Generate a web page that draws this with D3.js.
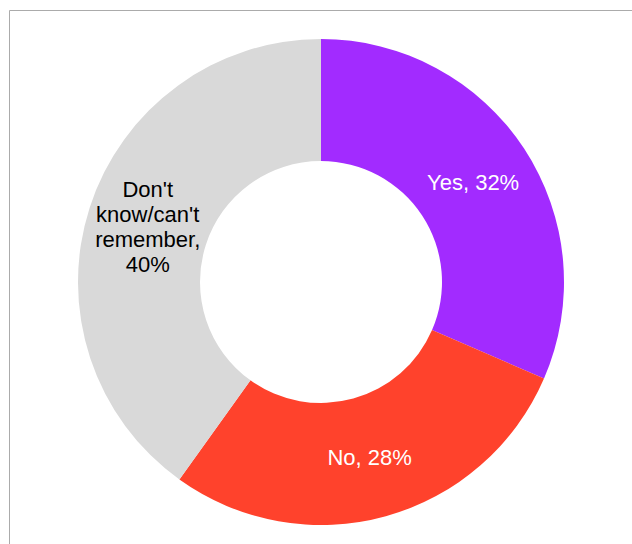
<!DOCTYPE html>
<html><head><meta charset="utf-8">
<script src="https://cdn.jsdelivr.net/npm/d3@7"></script>
<style>html,body{margin:0;padding:0;background:#fff;}svg{display:block;}</style>
</head><body>
<script>
const categories = ["Yes", "No", "Don't know/can't remember"];
const values = [31.5, 28.4, 40.1];
const labelLines = [["Yes, 32%"], ["No, 28%"], ["Don't", "know/can't", "remember,", "40%"]];
const colors = ["#A22BFF", "#FF422C", "#D9D9D9"];
const textColors = ["#ffffff", "#ffffff", "#000000"];

const W = 632, H = 544;
const svg = d3.select("body").append("svg").attr("width", W).attr("height", H);

// frame
svg.append("path").attr("d", `M9.5,${H} V10.5 H${W}`).attr("fill", "none").attr("stroke", "#ababab").attr("stroke-width", 1);

const cx = 321, cy = 282, rO = 243, rI = 121;
const g = svg.append("g").attr("transform", `translate(${cx},${cy})`);
const data = categories.map((c, i) => ({c, v: values[i], i}));
const pie = d3.pie().value(d => d.v).sort(null);
const arc = d3.arc().innerRadius(rI).outerRadius(rO);
const arcs = pie(data);
g.selectAll("path.slice").data(arcs).join("path").attr("class", "slice")
  .attr("d", arc).attr("fill", d => colors[d.data.i]);

const fs = 22, lh = 25;
const labelArc = d3.arc().innerRadius((rI + rO) / 2).outerRadius((rI + rO) / 2);
const shifts = [[0, 0], [0, 0], [0, 0]];
arcs.forEach(a => {
  const i = a.data.i;
  const [x, y] = labelArc.centroid(a);
  const lines = labelLines[i];
  const t = g.append("text").attr("text-anchor", "middle")
    .attr("font-family", "Arial, 'Liberation Sans', sans-serif").attr("font-size", fs)
    .attr("fill", textColors[i]);
  const y0 = y + shifts[i][1] - (lines.length - 1) * lh / 2;
  lines.forEach((l, k) => {
    t.append("tspan").attr("x", x + shifts[i][0]).attr("y", y0 + k * lh).attr("dy", "0.35em").text(l);
  });
});
</script>
</body></html>
